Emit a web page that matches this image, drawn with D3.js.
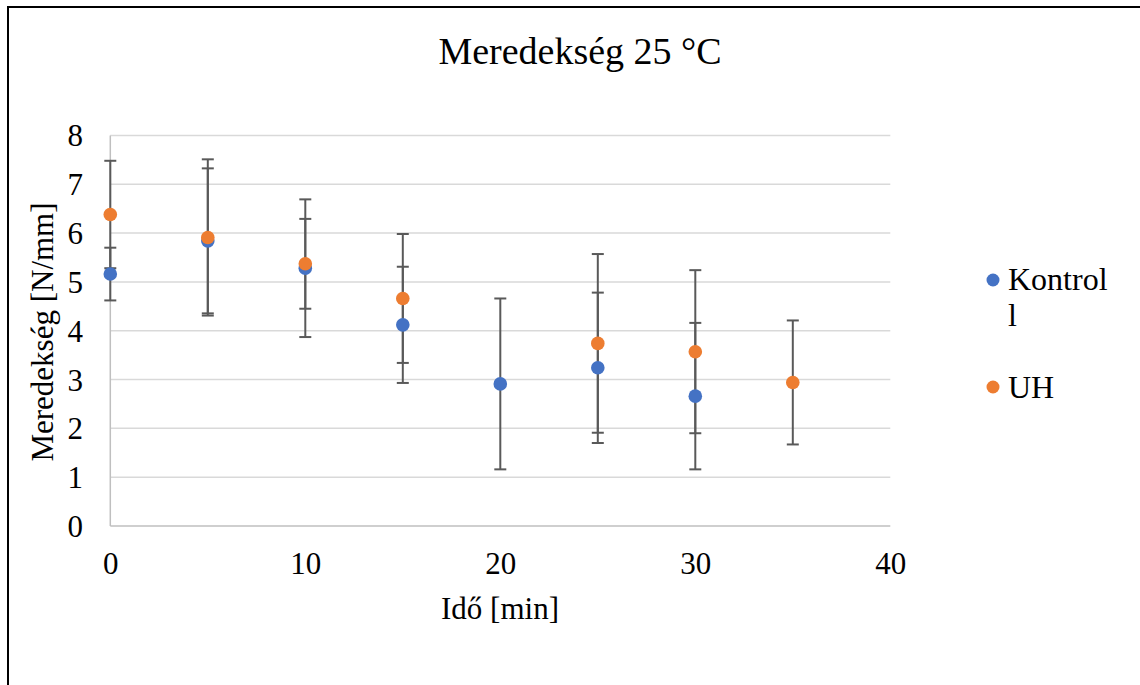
<!DOCTYPE html>
<html>
<head>
<meta charset="utf-8">
<script src="https://cdn.jsdelivr.net/npm/d3@7"></script>
<style>
  html, body { margin: 0; padding: 0; background: #fff; }
  svg { display: block; }
  svg text { font-family: "Liberation Serif", "Times New Roman", serif; fill: #000; }
</style>
</head>
<body>
<svg id="chart" width="1140" height="685"></svg>
<script>
// Time points (min)
const kontrolX = [0, 5, 10, 15, 20, 25, 30];
const kontrolY = [5.16, 5.84, 5.28, 4.12, 2.91, 3.24, 2.66];
const kontrolErr = [0.54, 1.485, 1.41, 1.19, 1.75, 1.54, 1.5];

const uhX = [0, 5, 10, 15, 25, 30, 35];
const uhY = [6.38, 5.91, 5.37, 4.66, 3.74, 3.57, 2.94];
const uhErr = [1.1, 1.6, 0.92, 1.32, 1.83, 1.67, 1.27];

const xTicks = [0, 10, 20, 30, 40];
const yTicks = [0, 1, 2, 3, 4, 5, 6, 7, 8];

const seriesNames = ["Kontrol", "UH"];
const seriesColors = ["#4472c4", "#ed7d31"];

const FONT = "'Liberation Serif', 'Times New Roman', serif";

const svg = d3.select("#chart");

// outer frame (top and left edges are visible inside the window)
svg.append("rect")
  .attr("x", 8).attr("y", 7)
  .attr("width", 1200).attr("height", 800)
  .attr("fill", "#fff").attr("stroke", "#000").attr("stroke-width", 2);

const plot = { left: 110.3, right: 890.3, top: 135.4, bottom: 526 };

const x = d3.scaleLinear().domain([0, 40]).range([plot.left, plot.right]);
const y = d3.scaleLinear().domain([0, 8]).range([plot.bottom, plot.top]);

// gridlines
svg.append("g")
  .selectAll("line")
  .data(yTicks.filter(d => d > 0))
  .join("line")
  .attr("x1", plot.left).attr("x2", plot.right)
  .attr("y1", d => y(d)).attr("y2", d => y(d))
  .attr("stroke", "#d9d9d9").attr("stroke-width", 1.5);

// axis lines
svg.append("line")
  .attr("x1", plot.left).attr("x2", plot.right)
  .attr("y1", plot.bottom).attr("y2", plot.bottom)
  .attr("stroke", "#bfbfbf").attr("stroke-width", 1.5);
svg.append("line")
  .attr("x1", plot.left).attr("x2", plot.left)
  .attr("y1", plot.top).attr("y2", plot.bottom)
  .attr("stroke", "#bfbfbf").attr("stroke-width", 1.5);

// tick labels from d3 axes (domain and tick marks hidden)
const yAxis = d3.axisLeft(y).tickValues(yTicks).tickSize(0).tickPadding(0).tickFormat(d3.format("d"));
const gy = svg.append("g").attr("transform", `translate(${83},0)`).call(yAxis)
  .attr("font-family", FONT).attr("font-size", 31);
gy.select(".domain").remove();
gy.selectAll("text").attr("fill", "#000").attr("dy", "0.34em");

const xAxis = d3.axisBottom(x).tickValues(xTicks).tickSize(0).tickPadding(0).tickFormat(d3.format("d"));
const gx = svg.append("g").attr("transform", `translate(0,${552})`).call(xAxis)
  .attr("font-family", FONT).attr("font-size", 31);
gx.select(".domain").remove();
gx.selectAll("text").attr("fill", "#000").attr("dy", "0.71em");

// titles
svg.append("text")
  .attr("x", 580).attr("y", 64)
  .attr("text-anchor", "middle")
  .attr("font-size", 38)
  .text("Meredekség 25 °C");

svg.append("text")
  .attr("x", 500).attr("y", 619)
  .attr("text-anchor", "middle")
  .attr("font-size", 31)
  .text("Idő [min]");

svg.append("text")
  .attr("transform", `translate(53,332) rotate(-90)`)
  .attr("text-anchor", "middle")
  .attr("font-size", 31)
  .text("Meredekség [N/mm]");

const series = [
  { name: seriesNames[0], color: seriesColors[0], xs: kontrolX, ys: kontrolY, es: kontrolErr },
  { name: seriesNames[1], color: seriesColors[1], xs: uhX, ys: uhY, es: uhErr }
];

// error bars
const errG = svg.append("g").attr("stroke", "#595959").attr("stroke-width", 2);
series.forEach(s => {
  const pts = s.xs.map((xv, i) => ({ x: xv, y: s.ys[i], e: s.es[i] }));
  const g = errG.append("g").selectAll("g").data(pts).join("g");
  g.append("line")
    .attr("x1", d => x(d.x)).attr("x2", d => x(d.x))
    .attr("y1", d => y(d.y + d.e)).attr("y2", d => y(d.y - d.e));
  g.append("line")
    .attr("x1", d => x(d.x) - 6).attr("x2", d => x(d.x) + 6)
    .attr("y1", d => y(d.y + d.e)).attr("y2", d => y(d.y + d.e));
  g.append("line")
    .attr("x1", d => x(d.x) - 6).attr("x2", d => x(d.x) + 6)
    .attr("y1", d => y(d.y - d.e)).attr("y2", d => y(d.y - d.e));
});

// markers
series.forEach(s => {
  svg.append("g").selectAll("circle")
    .data(s.xs.map((xv, i) => ({ x: xv, y: s.ys[i] })))
    .join("circle")
    .attr("cx", d => x(d.x)).attr("cy", d => y(d.y))
    .attr("r", 6.8).attr("fill", s.color);
});

// legend
const leg = svg.append("g");
leg.append("circle").attr("cx", 993).attr("cy", 280).attr("r", 6.5).attr("fill", seriesColors[0]);
const kt = leg.append("text").attr("x", 1008).attr("y", 290).attr("font-size", 32);
kt.append("tspan").attr("x", 1008).text("Kontrol");
kt.append("tspan").attr("x", 1008).attr("dy", 36).text("l");
leg.append("circle").attr("cx", 993).attr("cy", 387).attr("r", 6.5).attr("fill", seriesColors[1]);
leg.append("text").attr("x", 1008).attr("y", 398).attr("font-size", 32).text("UH");
</script>
</body>
</html>
